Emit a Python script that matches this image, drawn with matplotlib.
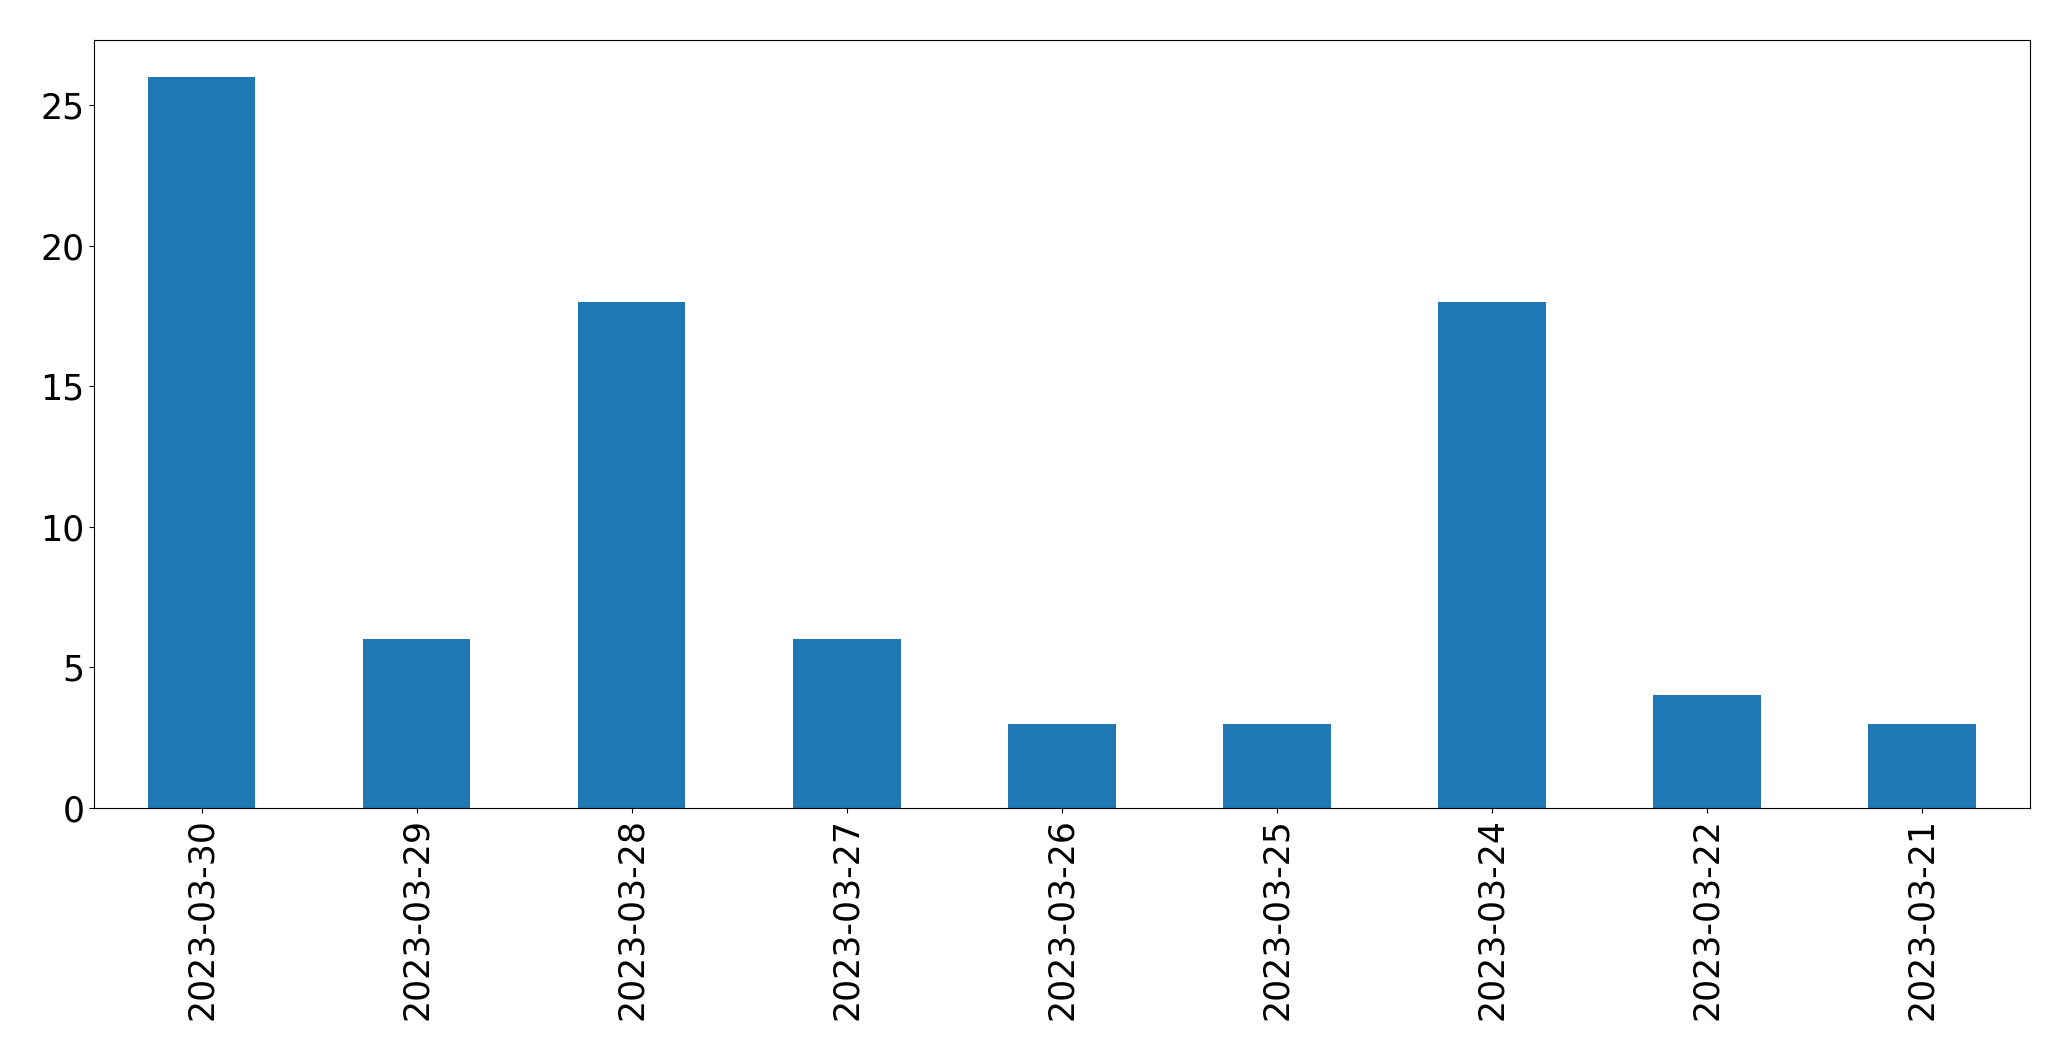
import numpy as np
import matplotlib
matplotlib.use('Agg')
from matplotlib import pyplot as plt

dates = ['2023-03-30', '2023-03-29', '2023-03-28', '2023-03-27', '2023-03-26',
         '2023-03-25', '2023-03-24', '2023-03-22', '2023-03-21']
counts = [26, 6, 18, 6, 3, 3, 18, 4, 3]

fig = plt.figure(figsize=(20.71, 10.61), dpi=100)
ax = fig.add_axes([0.0454, 0.2385, 0.9346, 0.7235])
x = np.arange(len(dates))
ax.bar(x, counts, width=0.5, color='#1f77b4')
ax.set_xlim(-0.5, len(dates) - 0.5)
ax.set_ylim(0, 27.3)
ax.set_xticks(x)
ax.set_xticklabels(dates, rotation=90)
ax.tick_params(labelsize=25)
plt.savefig('out.png', dpi=100)
